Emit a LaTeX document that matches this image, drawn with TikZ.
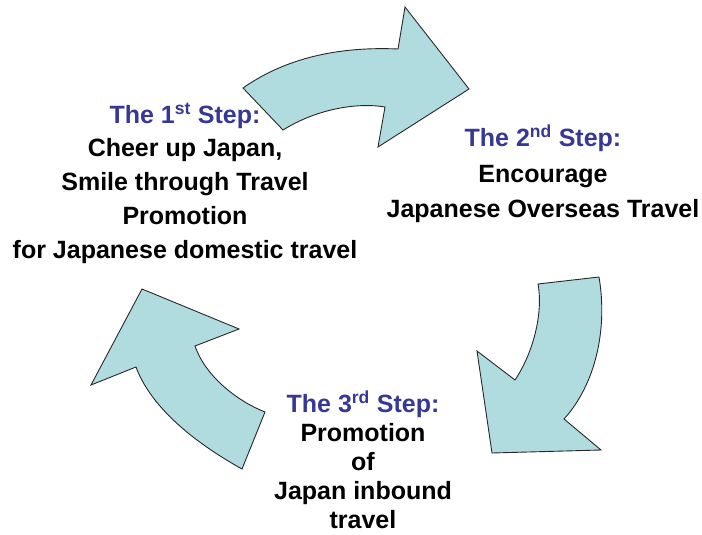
\documentclass[tikz,border=0pt]{standalone}
\usepackage{fontspec}
\setmainfont{Liberation Sans}
\definecolor{arrowfill}{RGB}{176,220,224}
\definecolor{arrowline}{RGB}{40,40,40}
\definecolor{stephead}{RGB}{55,55,150}
\tikzset{
  bigarrow/.style={fill=arrowfill, draw=arrowline, line width=0.9pt, line join=miter},
  steptext/.style={align=center, font=\fontsize{25}{#1}\selectfont\bfseries, inner sep=0pt},
}
\newcommand{\stephd}[2]{\textcolor{stephead}{The #1\textsuperscript{#2} Step:}}
\begin{document}
\begin{tikzpicture}[x=1pt, y=-1pt]
\useasboundingbox (0,0) rectangle (702,535);
% top arrow
\draw[bigarrow] (243,88) .. controls (280,62) and (330,46) .. (398,49)
  -- (405,7) -- (469,89) -- (378,147) -- (385,107)
  .. controls (355,102) and (315,110) .. (283,130) -- cycle;
% right arrow
\draw[bigarrow] (538,284) -- (599,277)
  .. controls (608,330) and (595,385) .. (564,419)
  -- (601,450) -- (492,453) -- (477,351) -- (515,380)
  .. controls (535,350) and (543,310) .. (538,284) -- cycle;
% left arrow
\draw[bigarrow] (142,289) -- (239,329) -- (195,346)
  .. controls (205,375) and (235,400) .. (265,412)
  -- (242,469)
  .. controls (190,440) and (150,405) .. (136,367)
  -- (91,385) -- cycle;
% texts
\node[steptext=33.7] (s1) at (185,183) {\stephd{1}{st}\\Cheer up Japan,\\Smile through Travel\\Promotion\\for Japanese domestic travel};
\node[steptext=35.5] (s2) at (543,174) {\stephd{2}{nd}\\Encourage\\Japanese Overseas Travel};
\node[steptext=29] (s3) at (363,460) {\stephd{3}{rd}\\Promotion\\of\\Japan inbound\\travel};
\end{tikzpicture}
\end{document}
